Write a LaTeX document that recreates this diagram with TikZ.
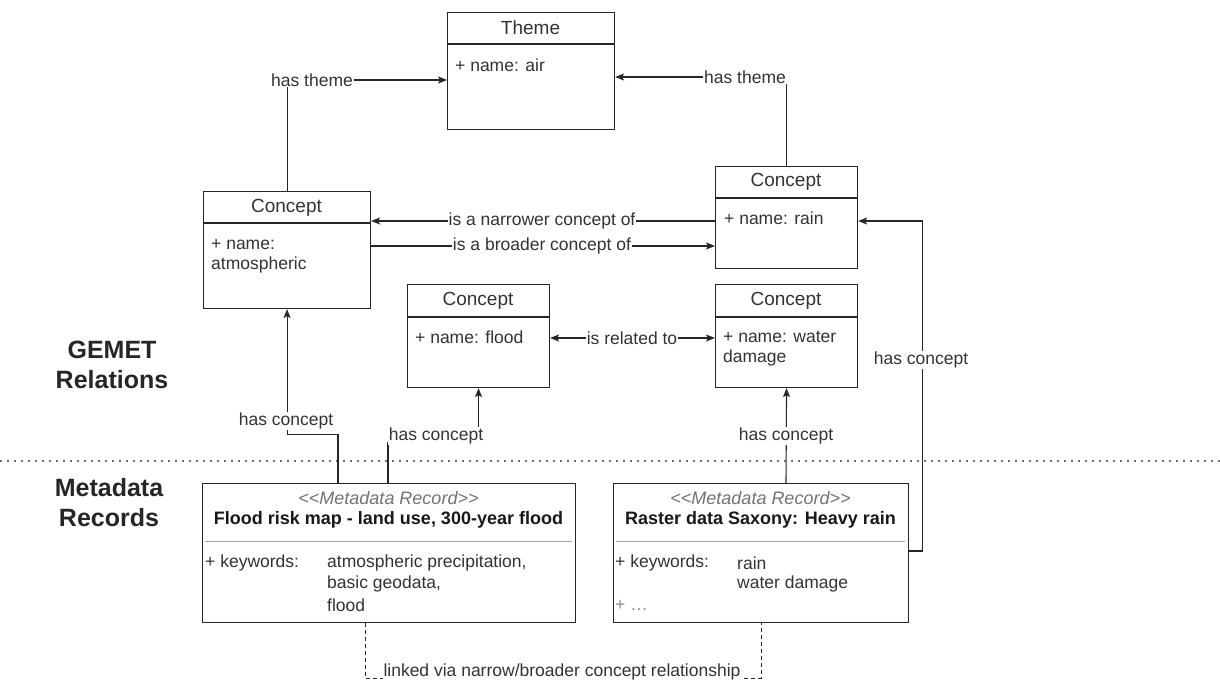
\documentclass[tikz,border=0pt]{standalone}
\usepackage{fontspec}
\setmainfont{Liberation Sans}
\usetikzlibrary{arrows.meta}
\definecolor{ink}{HTML}{262626}
\definecolor{txt}{HTML}{333333}
\newcommand\bodyfont{\fontsize{17.5}{20.5}\selectfont}
\newcommand\headfont{\fontsize{19}{22}\selectfont}
\newcommand\titlefont{\fontsize{18}{21}\selectfont}
\newcommand\sidefont{\fontsize{25}{30}\selectfont\bfseries}
\newcommand\stereo[1]{{<}{<}#1{>}{>}}
\tikzset{
  umlbox/.style={draw=ink, line width=1.1pt, fill=white, anchor=north west, inner sep=0pt},
  head/.style={font=\headfont, text=txt, inner sep=0pt},
  attr/.style={font=\bodyfont, text=txt, inner sep=0pt, anchor=west},
  lbl/.style={font=\bodyfont, text=txt, fill=white, inner sep=1pt},
  conn/.style={draw=ink, line width=1.1pt},
  arr/.style={conn, -{Stealth[length=9pt, width=7pt, inset=2pt]}},
  biarr/.style={conn, {Stealth[length=9pt, width=7pt, inset=2pt]}-{Stealth[length=9pt, width=7pt, inset=2pt]}},
  link/.style={draw=ink, line width=0.8pt, dash pattern=on 4pt off 3pt},
  sep/.style={draw=ink, line width=1.1pt},
  side/.style={font=\sidefont, text=black!85, align=center, inner sep=0pt},
}
\begin{document}
\begin{tikzpicture}[x=1pt, y=-1pt]
\useasboundingbox[fill=white] (0,0) rectangle (1220,683);

% section separator
\draw[black!55, line width=1.1pt, dash pattern=on 1.6pt off 5.4pt] (0,461) -- (1220,461);

% section captions
\node[side] (gemet) at (112,365) {GEMET\\Relations};
\node[side] (meta) at (109,503) {Metadata\\Records};

% ---------- GEMET concept boxes ----------
\node[umlbox, minimum width=167pt, minimum height=117pt] (theme) at (447,12) {};
\draw[sep] (447,44) -- (614,44);
\node[head] (themeH) at (530.5,28) {Theme};
\node[attr] (themeA) at (455,65) {+ name: air};

\node[umlbox, minimum width=167pt, minimum height=117pt] (atmos) at (203,191) {};
\draw[sep] (203,223) -- (370,223);
\node[head] (atmosH) at (286.5,208) {Concept};
\node[attr] (atmosA1) at (211,245) {+ name:};
\node[attr] (atmosA2) at (211,265) {atmospheric};

\node[umlbox, minimum width=142pt, minimum height=102pt] (rain) at (715,166) {};
\draw[sep] (715,198) -- (857,198);
\node[head] (rainH) at (786,182) {Concept};
\node[attr] (rainA) at (724,218) {+ name: rain};

\node[umlbox, minimum width=142pt, minimum height=103pt] (flood) at (407,284) {};
\draw[sep] (407,317) -- (549,317);
\node[head] (floodH) at (478,301) {Concept};
\node[attr] (floodA) at (415,337) {+ name: flood};

\node[umlbox, minimum width=142pt, minimum height=103pt] (water) at (715,284) {};
\draw[sep] (715,317) -- (857,317);
\node[head] (waterH) at (786,301) {Concept};
\node[attr] (waterA1) at (723,337) {+ name: water};
\node[attr] (waterA2) at (723,358) {damage};

% ---------- metadata records ----------
\node[umlbox, minimum width=373pt, minimum height=139pt] (rec1) at (202,483) {};
\node[font=\titlefont\itshape, text=black!55, inner sep=0pt] (rec1S) at (388.5,498) {\stereo{Metadata Record}};
\node[font=\titlefont\bfseries, text=black!90, inner sep=0pt] (rec1T) at (388.5,520) {Flood risk map - land use, 300-year flood};
\draw[black!35, line width=1pt] (205,541) -- (572,541);
\node[attr] (rec1K) at (205,563) {+ keywords:};
\node[attr] (rec1V1) at (327,563) {atmospheric precipitation,};
\node[attr] (rec1V2) at (327,584) {basic geodata,};
\node[attr] (rec1V3) at (327,605) {flood};

\node[umlbox, minimum width=295pt, minimum height=139pt] (rec2) at (613,483) {};
\node[font=\titlefont\itshape, text=black!55, inner sep=0pt] (rec2S) at (760.5,498) {\stereo{Metadata Record}};
\node[font=\titlefont\bfseries, text=black!90, inner sep=0pt] (rec2T) at (760.5,520) {Raster data Saxony: Heavy rain};
\draw[black!35, line width=1pt] (616,541) -- (905,541);
\node[attr] (rec2K) at (615,563) {+ keywords:};
\node[attr] (rec2V1) at (737,563) {rain};
\node[attr] (rec2V2) at (737,584) {water damage};
\node[attr, text=black!45] (rec2M) at (615,605) {+ \dots};

% ---------- relations ----------
\draw[arr] (atmos.north) |- ([yshift=-68pt]theme.north west);
\node[lbl] (ht1) at (312,80) {has theme};

\draw[arr] (rain.north) |- ([yshift=-65pt]theme.north east);
\node[lbl] (ht2) at (745,77) {has theme};

\draw[arr] ([yshift=-55pt]rain.north west) -- ([yshift=-30pt]atmos.north east);
\node[lbl] (nar) at (542,221) {is a narrower concept of};

\draw[arr] ([yshift=-55pt]atmos.north east) -- ([yshift=-80pt]rain.north west);
\node[lbl] (bro) at (542,246) {is a broader concept of};

\draw[biarr] ([yshift=-54pt]flood.north east) -- ([yshift=-54pt]water.north west);
\node[lbl] (rel) at (632,338) {is related to};

% has concept
\draw[arr] ([xshift=136pt]rec1.north west) |- ([yshift=-125pt]atmos.south) -- (atmos.south);
\node[lbl, inner sep=0.5pt] (hc1) at (286,421) {has concept};

\draw[arr] ([xshift=186pt]rec1.north west) |- ([yshift=-54pt]flood.south) -- (flood.south);
\node[lbl] (hc2) at (436,436) {has concept};

\draw[arr] ([xshift=173pt]rec2.north west) -- (water.south);
\node[lbl] (hc3) at (786,436) {has concept};

\draw[arr] ([yshift=-68pt]rec2.north east) -| ([xshift=64pt, yshift=-55pt]rain.north east) -- ([yshift=-55pt]rain.north east);
\node[lbl] (hc4) at (921,360) {has concept};

% dashed link between the records
\draw[link] ([xshift=163pt]rec1.south west) |- ([yshift=-55pt]rec2.south) -- (rec2.south);
\node[lbl, inner sep=0.5pt] (lnk) at (562,672) {linked via narrow/broader concept relationship};
\end{tikzpicture}
\end{document}
